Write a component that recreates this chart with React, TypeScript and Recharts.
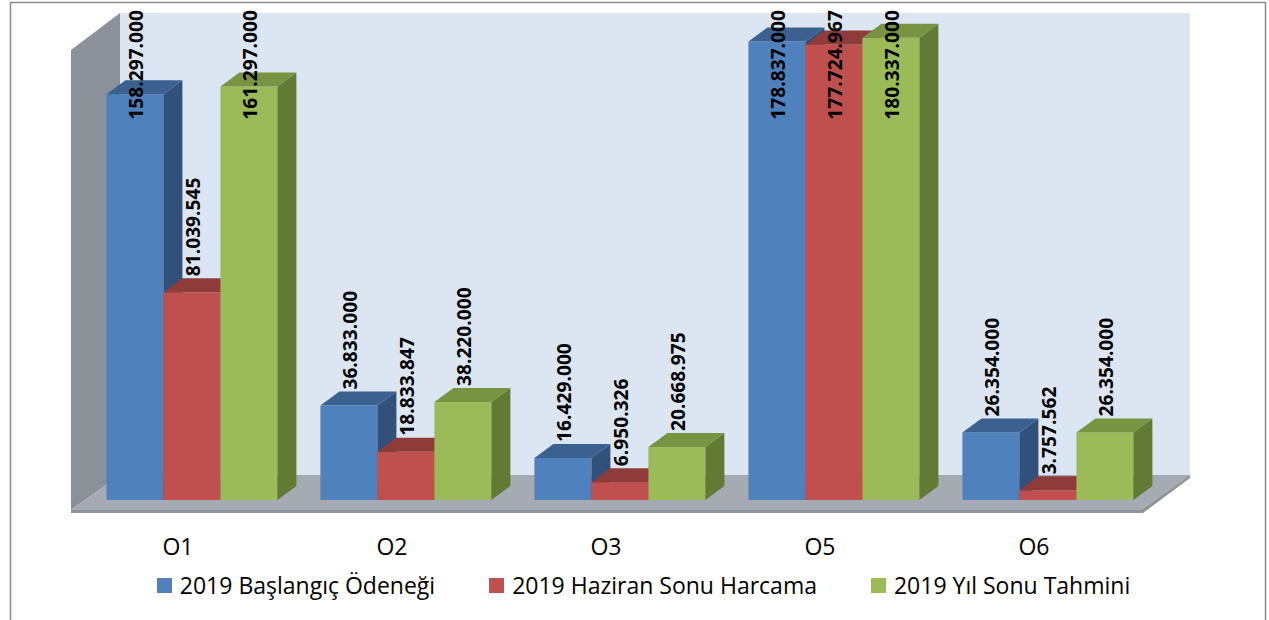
import React from 'react';
import { BarChart, Bar, XAxis, YAxis, Legend, LabelList } from 'recharts';

// ---------- data ----------
const categories = ['O1', 'O2', 'O3', 'O5', 'O6'];
const baslangic = [158297000, 36833000, 16429000, 178837000, 26354000];
const haziran = [81039545, 18833847, 6950326, 177724967, 3757562];
const yilSonu = [161297000, 38220000, 20668975, 180337000, 26354000];
const seriesNames = ['2019 Başlangıç Ödeneği', '2019 Haziran Sonu Harcama', '2019 Yıl Sonu Tahmini'];
const seriesKeys = ['a', 'b', 'c'];
const yDomain = [0, 181000000];

const data = categories.map((name, i) => ({ name, a: baslangic[i], b: haziran[i], c: yilSonu[i] }));

// ---------- layout / style ----------
const W = 1269;
const H = 620;
const MARGIN = { top: 46, right: 128, bottom: 80, left: 71 };
const XAXIS_H = 30;
const PLOT_L = MARGIN.left;
const PLOT_R = W - MARGIN.right;
const FLOOR_Y = H - MARGIN.bottom - XAXIS_H; // 510
const BOX_DX = 49;
const BOX_DY = 35;
const WALL_TOP = 13;
const BAR_OX = 14;
const BAR_OY = -10;
const DEP_X = 19;
const DEP_Y = 14;

const COLORS = [
  { front: '#4F81BD', top: '#3B6191', side: '#31517B' },
  { front: '#C0504D', top: '#8E3B39', side: '#7B3230' },
  { front: '#9BBB59', top: '#789341', side: '#637A35' },
];

const FONT = '"Open Sans", "DejaVu Sans", sans-serif';
const LABEL_FS = 19.2;
const TEXT_FS = 23;

const fmt = (v: number) => String(Math.round(v)).replace(/\B(?=(\d{3})+(?!\d))/g, '.');

const makeShape = (ci: number) => (props: any) => {
  const { x, y, width, height } = props;
  if (width == null || height == null) return null;
  const c = COLORS[ci];
  const fx = x + BAR_OX;
  const fy = y + BAR_OY;
  const w = width;
  const h = height;
  const top = `${fx},${fy} ${fx + w},${fy} ${fx + w + DEP_X},${fy - DEP_Y} ${fx + DEP_X},${fy - DEP_Y}`;
  const side = `${fx + w},${fy} ${fx + w + DEP_X},${fy - DEP_Y} ${fx + w + DEP_X},${fy + h - DEP_Y} ${fx + w},${fy + h}`;
  return (
    <g>
      <rect x={fx} y={fy} width={w} height={h} fill={c.front} />
      <polygon points={side} fill={c.side} />
      <polygon points={top} fill={c.top} />
    </g>
  );
};

const renderLabel = (props: any) => {
  const vb = props.viewBox && props.viewBox.width != null ? props.viewBox : props;
  const { x, y, width } = vb;
  const value = props.value;
  if (x == null || value == null) return null;
  const str = fmt(Number(value));
  const digits = str.replace(/\./g, '').length;
  const dots = str.length - digits;
  const estLen = LABEL_FS * (digits * 0.572 + dots * 0.285);
  const fx = x + BAR_OX;
  const fy = y + BAR_OY;
  const cx = fx + width / 2 + 1.5;
  const bx = cx + LABEL_FS * 0.36;
  let sy = fy - DEP_Y - 2;
  let anchor: 'start' | 'end' = 'start';
  if (sy - estLen < 10) {
    sy = 10;
    anchor = 'end';
  }
  return (
    <text
      transform={`translate(${bx},${sy}) rotate(-90)`}
      x={0}
      y={0}
      textAnchor={anchor}
      fontFamily={FONT}
      fontWeight={700}
      fontSize={LABEL_FS}
      fill="#000"
    >
      {str}
    </text>
  );
};

const CategoryTick = (props: any) => {
  const { x, payload } = props;
  return (
    <text x={x} y={FLOOR_Y + 45} textAnchor="middle" fontFamily={FONT} fontSize={TEXT_FS} fill="#000">
      {payload.value}
    </text>
  );
};

const LegendContent = () => (
  <div
    style={{
      display: 'flex',
      justifyContent: 'center',
      alignItems: 'center',
      fontFamily: FONT,
      fontSize: TEXT_FS,
      lineHeight: '30px',
      color: '#000',
      paddingLeft: 18,
      whiteSpace: 'nowrap',
    }}
  >
    {seriesNames.map((n, i) => (
      <span key={n} style={{ display: 'flex', alignItems: 'center', marginRight: i < seriesNames.length - 1 ? 54 : 0 }}>
        <span style={{ display: 'inline-block', width: 15, height: 15, background: COLORS[i].front, marginRight: 8 }} />
        <span>{n}</span>
      </span>
    ))}
  </div>
);

const Box = () => {
  const bl = PLOT_L + BOX_DX;
  const br = PLOT_R + BOX_DX;
  const by = FLOOR_Y - BOX_DY;
  return (
    <svg width={W} height={H} style={{ position: 'absolute', left: 0, top: 0 }}>
      <rect x={0} y={0} width={W} height={H} fill="#fff" />
      <rect x={10.5} y={2.5} width={1255} height={660} fill="none" stroke="#8a8a8a" strokeWidth={1.5} />
      <rect x={bl} y={WALL_TOP} width={br - bl} height={by - WALL_TOP} fill="#DCE6F2" />
      <polygon points={`${PLOT_L},${WALL_TOP + BOX_DY + 2} ${bl},${WALL_TOP} ${bl},${by} ${PLOT_L},${FLOOR_Y}`} fill="#8B9199" />
      <polygon points={`${PLOT_L},${FLOOR_Y} ${bl},${by} ${br},${by} ${PLOT_R},${FLOOR_Y}`} fill="#A6ABB3" />
      <polygon
        points={`${PLOT_L},${FLOOR_Y} ${PLOT_R},${FLOOR_Y} ${br},${by} ${br},${by + 3} ${PLOT_R + 2},${FLOOR_Y + 3} ${PLOT_L},${FLOOR_Y + 3}`}
        fill="#8E9399"
      />
    </svg>
  );
};

export default function App() {
  return (
    <div style={{ position: 'absolute', left: 0, top: 0, width: W, height: H, background: '#fff' }}>
      <Box />
      <div style={{ position: 'absolute', left: 0, top: 0 }}>
        <BarChart width={W} height={H} data={data} margin={MARGIN} barCategoryGap="10%" barGap={0}>
          <XAxis dataKey="name" axisLine={false} tickLine={false} height={XAXIS_H} tick={<CategoryTick />} interval={0} />
          <YAxis hide type="number" domain={yDomain} />
          <Legend
            verticalAlign="middle"
            align="center"
            layout="horizontal"
            content={<LegendContent />}
            wrapperStyle={{ top: 570, left: 0, width: W }}
          />
          {seriesKeys.map((k, i) => (
            <Bar key={k} dataKey={k} name={seriesNames[i]} fill={COLORS[i].front} shape={makeShape(i)} isAnimationActive={false}>
              <LabelList dataKey={k} content={renderLabel} />
            </Bar>
          ))}
        </BarChart>
      </div>
    </div>
  );
}
